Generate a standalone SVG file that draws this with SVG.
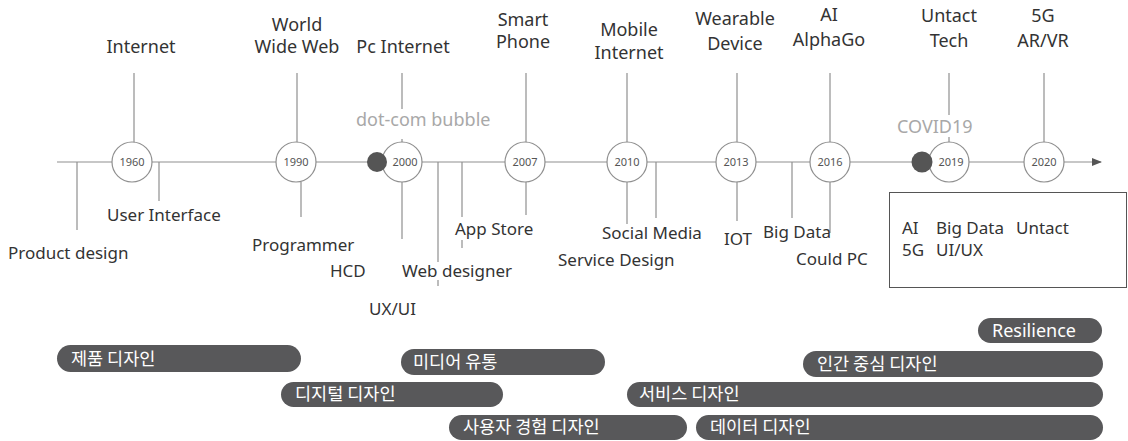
<svg xmlns="http://www.w3.org/2000/svg" width="1128" height="441" viewBox="0 0 1128 441">
<defs>
<style>
.ln{stroke:#8f8f8f;stroke-width:1.2;fill:none}
.yr{fill:#fff;stroke:#8f8f8f;stroke-width:1.2}
.yt{font-family:"Noto Sans","Noto Sans CJK KR",sans-serif;font-size:11px;fill:#555;text-anchor:middle}
.tl{font-family:"Noto Sans","Noto Sans CJK KR",sans-serif;font-size:18px;fill:#333;text-anchor:middle}
.bl{font-family:"Noto Sans","Noto Sans CJK KR",sans-serif;font-size:17px;fill:#333}
.gr{font-family:"Noto Sans","Noto Sans CJK KR",sans-serif;font-size:18px;fill:#a8a8a8}
.dot{fill:#555}
.bar{fill:#58585a}
.bt{font-family:"Noto Sans CJK KR","Noto Sans",sans-serif;font-size:17.5px;fill:#fff}
.btl{font-family:"Noto Sans","Noto Sans CJK KR",sans-serif;font-size:18px;fill:#fff}
</style>
<marker id="arr" markerWidth="10" markerHeight="10" refX="9" refY="4" orient="auto" markerUnits="userSpaceOnUse">
<path d="M0,0 L10,4 L0,8 Z" fill="#555"/>
</marker>
</defs>
<rect width="1128" height="441" fill="#fff"/>
<g id="connectors">
<line class="ln" x1="57" y1="162" x2="1101" y2="162" marker-end="url(#arr)"/>
<line class="ln" x1="134" y1="73" x2="134" y2="143"/>
<line class="ln" x1="297" y1="73" x2="297" y2="143"/>
<line class="ln" x1="402" y1="73" x2="402" y2="109"/>
<line class="ln" x1="402" y1="139" x2="402" y2="143"/>
<line class="ln" x1="526" y1="73" x2="526" y2="143"/>
<line class="ln" x1="627" y1="73" x2="627" y2="143"/>
<line class="ln" x1="737" y1="73" x2="737" y2="143"/>
<line class="ln" x1="830" y1="73" x2="830" y2="143"/>
<line class="ln" x1="949" y1="73" x2="949" y2="115"/>
<line class="ln" x1="949" y1="137" x2="949" y2="143"/>
<line class="ln" x1="1044" y1="73" x2="1044" y2="143"/>
<line class="ln" x1="77" y1="162" x2="77" y2="230"/>
<line class="ln" x1="159" y1="162" x2="159" y2="201"/>
<line class="ln" x1="301" y1="182" x2="301" y2="217"/>
<line class="ln" x1="402" y1="182" x2="402" y2="239"/>
<line class="ln" x1="438" y1="162" x2="438" y2="262"/>
<line class="ln" x1="438" y1="280" x2="438" y2="286"/>
<line class="ln" x1="462" y1="162" x2="462" y2="217"/>
<line class="ln" x1="462" y1="240" x2="462" y2="248"/>
<line class="ln" x1="526" y1="182" x2="526" y2="215"/>
<line class="ln" x1="627" y1="182" x2="627" y2="224"/>
<line class="ln" x1="656" y1="162" x2="656" y2="218"/>
<line class="ln" x1="737" y1="182" x2="737" y2="221"/>
<line class="ln" x1="792" y1="162" x2="792" y2="218"/>
<line class="ln" x1="830" y1="182" x2="830" y2="233"/>
</g>
<g id="y1960"><circle class="yr" cx="132" cy="162" r="20"/><text class="yt" x="132" y="166">1960</text></g>
<g id="y1990"><circle class="yr" cx="296" cy="162" r="20"/><text class="yt" x="296" y="166">1990</text></g>
<g id="y2000"><circle class="yr" cx="402" cy="162" r="20"/><text class="yt" x="405" y="166">2000</text></g>
<g id="y2007"><circle class="yr" cx="525" cy="162" r="20"/><text class="yt" x="525" y="166">2007</text></g>
<g id="y2010"><circle class="yr" cx="627" cy="162" r="20"/><text class="yt" x="627" y="166">2010</text></g>
<g id="y2013"><circle class="yr" cx="736" cy="162" r="20"/><text class="yt" x="736" y="166">2013</text></g>
<g id="y2016"><circle class="yr" cx="830" cy="162" r="20"/><text class="yt" x="830" y="166">2016</text></g>
<g id="y2019"><circle class="yr" cx="949" cy="162" r="20"/><text class="yt" x="951" y="166">2019</text></g>
<g id="y2020"><circle class="yr" cx="1044" cy="162" r="20"/><text class="yt" x="1044" y="166">2020</text></g>
<g id="dotcom"><circle class="dot" cx="377" cy="162" r="10"/><text class="gr" x="356" y="126">dot-com bubble</text></g>
<g id="covid"><circle class="dot" cx="922" cy="162" r="10.5"/><text class="gr" x="897" y="133">COVID19</text></g>
<g id="top-labels">
<text class="tl" x="141" y="53">Internet</text>
<text class="tl" x="297" y="31">World</text>
<text class="tl" x="297" y="53">Wide Web</text>
<text class="tl" x="403" y="53">Pc Internet</text>
<text class="tl" x="523" y="26">Smart</text>
<text class="tl" x="523" y="48">Phone</text>
<text class="tl" x="629" y="36">Mobile</text>
<text class="tl" x="629" y="59">Internet</text>
<text class="tl" x="735" y="25">Wearable</text>
<text class="tl" x="735" y="50">Device</text>
<text class="tl" x="829" y="21">AI</text>
<text class="tl" x="829" y="46">AlphaGo</text>
<text class="tl" x="949" y="22">Untact</text>
<text class="tl" x="949" y="47">Tech</text>
<text class="tl" x="1043" y="22">5G</text>
<text class="tl" x="1043" y="47">AR/VR</text>
</g>
<g id="bottom-labels">
<text class="bl" x="8" y="259">Product design</text>
<text class="bl" x="107" y="221">User Interface</text>
<text class="bl" x="252" y="251">Programmer</text>
<text class="bl" x="330" y="277">HCD</text>
<text class="bl" x="369" y="315">UX/UI</text>
<text class="bl" x="402" y="277">Web designer</text>
<text class="bl" x="455" y="235">App Store</text>
<text class="bl" x="558" y="266">Service Design</text>
<text class="bl" x="602" y="239">Social Media</text>
<text class="bl" x="724" y="245">IOT</text>
<text class="bl" x="763" y="238">Big Data</text>
<text class="bl" x="796" y="265">Could PC</text>
</g>
<g id="keywords">
<rect x="889.5" y="192.5" width="237" height="95" fill="none" stroke="#555" stroke-width="1"/>
<text class="bl" x="902" y="234">AI</text>
<text class="bl" x="936" y="234">Big Data</text>
<text class="bl" x="1016" y="234">Untact</text>
<text class="bl" x="902" y="256">5G</text>
<text class="bl" x="936" y="256">UI/UX</text>
</g>
<g id="bar-product"><rect class="bar" x="57" y="345" width="244" height="27" rx="13.5"/><text class="bt" x="71" y="365">제품 디자인</text></g>
<g id="bar-media"><rect class="bar" x="401" y="349" width="204" height="26" rx="13"/><text class="bt" x="413" y="368">미디어 유통</text></g>
<g id="bar-digital"><rect class="bar" x="281" y="382" width="222" height="25" rx="12.5"/><text class="bt" x="295" y="400">디지털 디자인</text></g>
<g id="bar-ux"><rect class="bar" x="449" y="415" width="238" height="25" rx="12.5"/><text class="bt" x="463" y="433">사용자 경험 디자인</text></g>
<g id="bar-service"><rect class="bar" x="627" y="382" width="476" height="25" rx="12.5"/><text class="bt" x="639" y="400">서비스 디자인</text></g>
<g id="bar-data"><rect class="bar" x="696" y="415" width="407" height="25" rx="12.5"/><text class="bt" x="710" y="433">데이터 디자인</text></g>
<g id="bar-human"><rect class="bar" x="803" y="351" width="300" height="26" rx="13"/><text class="bt" x="817" y="370">인간 중심 디자인</text></g>
<g id="bar-resilience"><rect class="bar" x="978" y="318" width="124" height="25" rx="12.5"/><text class="btl" x="992" y="337">Resilience</text></g>
</svg>
